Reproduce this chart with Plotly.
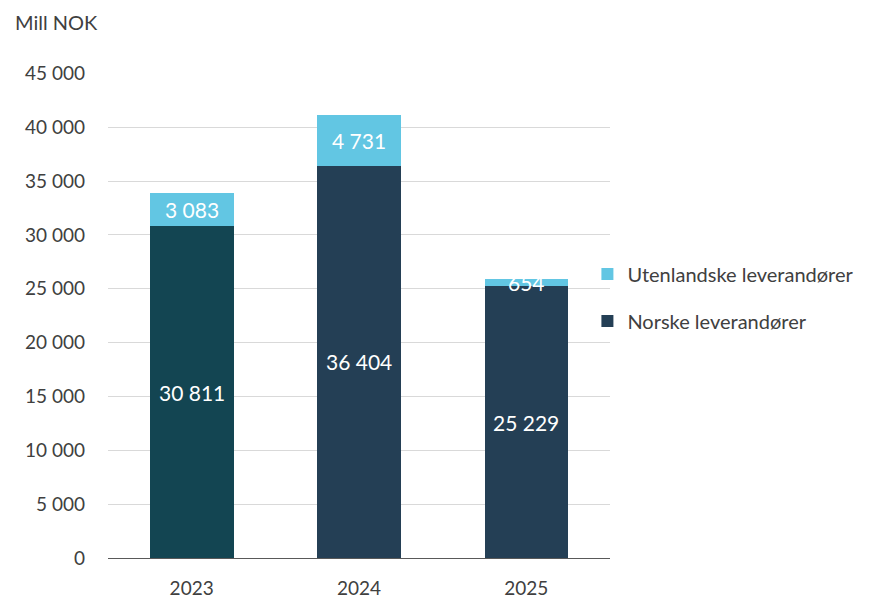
import plotly.graph_objects as go

years = ["2023", "2024", "2025"]
norske = [30811, 36404, 25229]
utenlandske = [3083, 4731, 654]
norske_colors = ["#134552", "#243F55", "#243F55"]
norske_legend_color = "#243F55"
utenl_color = "#62C6E3"
text_color = "#404040"
font_family = "Lato, 'Open Sans', sans-serif"

fig = go.Figure()
fig.add_trace(go.Bar(
    x=years, y=norske, name="Norske leverandører",
    marker=dict(color=norske_colors, line=dict(width=0)),
    width=0.5, textposition="none", showlegend=False,
))
fig.add_trace(go.Bar(
    x=years, y=utenlandske, name="Utenlandske leverandører",
    marker=dict(color=utenl_color, line=dict(width=0)),
    width=0.5, textposition="none", legendgroup="b", legendrank=1,
))
# Legend entry for the Norwegian series in its main colour
fig.add_trace(go.Bar(
    x=[years[0]], y=[None], name="Norske leverandører",
    marker=dict(color=norske_legend_color, line=dict(width=0)),
    legendgroup="a", legendrank=2, hoverinfo="skip",
))

def fmt(v):
    return f"{v:,}".replace(",", " ")

label_font = dict(color="white", size=21, family=font_family)
annotations = []
for i, (n, u) in enumerate(zip(norske, utenlandske)):
    # category positions given by index
    annotations.append(dict(x=i, y=n / 2, text=fmt(n), showarrow=False, font=label_font))
    annotations.append(dict(x=i, y=n + u / 2, text=fmt(u), showarrow=False, font=label_font))

pw = 882 - 108 - 272
ph = 599 - 73 - 41
annotations.append(dict(x=(56 - 108) / pw, y=(599 - 41 - 22) / ph,
                        xref="paper", yref="paper", text="Mill NOK",
                        showarrow=False, xanchor="center", yanchor="middle",
                        font=dict(color=text_color, size=20, family=font_family)))

fig.update_layout(
    barmode="stack",
    width=882, height=599,
    margin=dict(l=108, r=272, t=73, b=41),
    plot_bgcolor="white", paper_bgcolor="white",
    separators=", ",
    font=dict(family=font_family, color=text_color, size=19),
    showlegend=True,
    legend=dict(x=0.955, y=0.537, xanchor="left", yanchor="middle",
                traceorder="grouped", tracegroupgap=18,
                font=dict(size=20, color=text_color, family=font_family),
                bgcolor="rgba(0,0,0,0)"),
    xaxis=dict(type="category", range=[-0.5, 2.5], showgrid=False, showline=True,
               linecolor="#595959", linewidth=1, automargin=False,
               ticks="", ticklabelstandoff=13,
               tickfont=dict(size=19, color=text_color)),
    yaxis=dict(range=[0, 45030], tickvals=list(range(0, 45001, 5000)),
               tickformat=",d", automargin=False,
               showgrid=True, gridcolor="#D9D9D9", gridwidth=1,
               zeroline=False, showline=False, ticks="",
               ticklabelstandoff=22,
               tickfont=dict(size=19, color=text_color)),
    annotations=annotations,
)

fig.write_html("out.html")
